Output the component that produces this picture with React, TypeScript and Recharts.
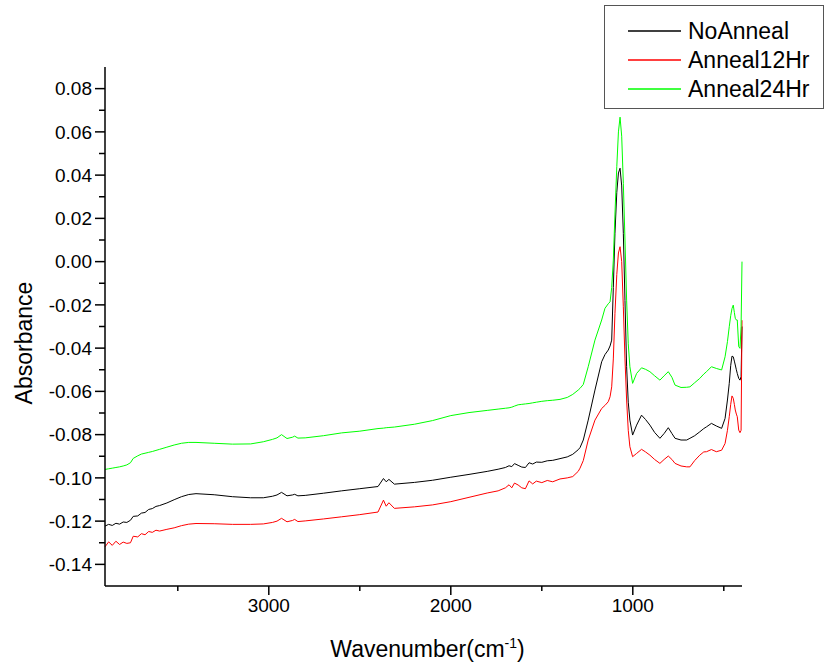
import React from 'react';
import { LineChart, Line, XAxis, YAxis, Legend } from 'recharts';

const wavenumbers = [
  3900, 3880, 3860, 3840, 3820, 3800, 3780, 3760, 3745, 3720, 3700, 3680, 3660, 3640, 3620, 3600,
  3560, 3520, 3480, 3440, 3400, 3300, 3200, 3100, 3030, 2980, 2955, 2930, 2900, 2870, 2858, 2840,
  2800, 2700, 2600, 2500, 2400, 2370, 2355, 2340, 2310, 2200, 2100, 2000, 1900, 1800, 1740, 1700,
  1680, 1665, 1650, 1630, 1610, 1590, 1570, 1550, 1530, 1500, 1470, 1440, 1400, 1360, 1330, 1300,
  1290, 1272, 1245, 1208, 1171, 1153, 1135, 1125, 1116, 1107, 1098, 1088, 1079, 1070, 1061, 1052,
  1043, 1034, 1025, 1016, 1001, 979, 952, 930, 906, 880, 851, 828, 805, 785, 768, 735,
  704, 686, 660, 632, 610, 595, 568, 541, 512, 493, 480, 470, 462, 455, 448, 442,
  437, 431, 426, 418, 411, 405, 400,
];

const noAnneal = [
  -0.1223, -0.1215, -0.1220, -0.1210, -0.1214, -0.1204, -0.1206, -0.1196, -0.1178, -0.1176, -0.1163, -0.1160, -0.1146, -0.1142, -0.1132, -0.1128,
  -0.1116, -0.1101, -0.1087, -0.1077, -0.1073, -0.1078, -0.1087, -0.1092, -0.1092, -0.1085, -0.1079, -0.1067, -0.1083, -0.1079, -0.1076, -0.1083,
  -0.1081, -0.1071, -0.1060, -0.1050, -0.1040, -0.1003, -0.1018, -0.1007, -0.1029, -0.1021, -0.1011, -0.0997, -0.0984, -0.0970, -0.0960, -0.0952,
  -0.0944, -0.0948, -0.0934, -0.0942, -0.0950, -0.0952, -0.0930, -0.0936, -0.0927, -0.0928, -0.0921, -0.0919, -0.0911, -0.0903, -0.0891, -0.0870,
  -0.0860, -0.0825, -0.0733, -0.0594, -0.0463, -0.0430, -0.0409, -0.0390, -0.0363, -0.0120, 0.0131, 0.0320, 0.0410, 0.0432, 0.0350, 0.0131,
  -0.0180, -0.0486, -0.0650, -0.0733, -0.0802, -0.0756, -0.0710, -0.0730, -0.0756, -0.0790, -0.0817, -0.0795, -0.0768, -0.0795, -0.0817, -0.0825,
  -0.0825, -0.0817, -0.0805, -0.0787, -0.0772, -0.0764, -0.0748, -0.0760, -0.0771, -0.0725, -0.0640, -0.0563, -0.0480, -0.0437, -0.0440, -0.0460,
  -0.0478, -0.0500, -0.0517, -0.0540, -0.0548, -0.0532, -0.0300,
];

const anneal12Hr = [
  -0.1319, -0.1296, -0.1312, -0.1293, -0.1308, -0.1297, -0.1303, -0.1300, -0.1270, -0.1273, -0.1258, -0.1263, -0.1248, -0.1252, -0.1242, -0.1246,
  -0.1238, -0.1231, -0.1221, -0.1214, -0.1211, -0.1212, -0.1215, -0.1215, -0.1213, -0.1206, -0.1200, -0.1187, -0.1203, -0.1197, -0.1192, -0.1202,
  -0.1199, -0.1190, -0.1180, -0.1170, -0.1158, -0.1103, -0.1131, -0.1115, -0.1141, -0.1134, -0.1125, -0.1110, -0.1090, -0.1070, -0.1060, -0.1046,
  -0.1032, -0.1046, -0.1024, -0.1033, -0.1046, -0.1050, -0.1014, -0.1028, -0.1015, -0.1022, -0.1012, -0.1018, -0.1005, -0.1000, -0.0994, -0.0970,
  -0.0955, -0.0920, -0.0825, -0.0733, -0.0679, -0.0665, -0.0648, -0.0625, -0.0579, -0.0450, -0.0239, -0.0060, 0.0040, 0.0069, 0.0000, -0.0209,
  -0.0450, -0.0640, -0.0780, -0.0856, -0.0902, -0.0887, -0.0868, -0.0880, -0.0895, -0.0915, -0.0933, -0.0915, -0.0899, -0.0915, -0.0933, -0.0945,
  -0.0949, -0.0949, -0.0920, -0.0895, -0.0880, -0.0879, -0.0869, -0.0879, -0.0872, -0.0841, -0.0780, -0.0717, -0.0660, -0.0621, -0.0632, -0.0660,
  -0.0686, -0.0705, -0.0717, -0.0779, -0.0791, -0.0780, -0.0271,
];

const anneal24Hr = [
  -0.0961, -0.0958, -0.0955, -0.0952, -0.0949, -0.0945, -0.0940, -0.0930, -0.0910, -0.0898, -0.0890, -0.0886, -0.0882, -0.0878, -0.0873, -0.0868,
  -0.0858, -0.0848, -0.0840, -0.0836, -0.0836, -0.0840, -0.0844, -0.0843, -0.0833, -0.0822, -0.0815, -0.0800, -0.0818, -0.0812, -0.0807, -0.0816,
  -0.0815, -0.0805, -0.0792, -0.0784, -0.0772, -0.0770, -0.0768, -0.0767, -0.0765, -0.0752, -0.0735, -0.0712, -0.0698, -0.0688, -0.0682, -0.0678,
  -0.0676, -0.0673, -0.0668, -0.0662, -0.0660, -0.0658, -0.0656, -0.0653, -0.0650, -0.0646, -0.0643, -0.0641, -0.0637, -0.0628, -0.0614, -0.0594,
  -0.0586, -0.0568, -0.0486, -0.0363, -0.0270, -0.0216, -0.0195, -0.0186, -0.0120, 0.0007, 0.0220, 0.0439, 0.0600, 0.0668, 0.0580, 0.0362,
  0.0100, -0.0178, -0.0380, -0.0486, -0.0563, -0.0517, -0.0491, -0.0498, -0.0509, -0.0528, -0.0548, -0.0528, -0.0509, -0.0535, -0.0571, -0.0582,
  -0.0581, -0.0579, -0.0560, -0.0540, -0.0520, -0.0509, -0.0486, -0.0494, -0.0501, -0.0440, -0.0370, -0.0301, -0.0250, -0.0217, -0.0201, -0.0235,
  -0.0262, -0.0270, -0.0270, -0.0393, -0.0401, -0.0300, 0.0000,
];

const xTicks = [500, 1000, 1500, 2000, 2500, 3000, 3500];
const yTicks = [
  -0.15, -0.14, -0.13, -0.12, -0.11, -0.1, -0.09, -0.08, -0.07, -0.06, -0.05, -0.04, -0.03, -0.02, -0.01,
  0, 0.01, 0.02, 0.03, 0.04, 0.05, 0.06, 0.07, 0.08, 0.09,
];

const seriesKeys = ['noAnneal', 'anneal12Hr', 'anneal24Hr'];
const seriesNames = ['NoAnneal', 'Anneal12Hr', 'Anneal24Hr'];
const seriesColors = ['#000000', '#ff0000', '#00ff00'];

const data = wavenumbers.map((wn, i) => ({
  wn,
  noAnneal: noAnneal[i],
  anneal12Hr: anneal12Hr[i],
  anneal24Hr: anneal24Hr[i],
}));

const FONT = '"Liberation Sans", Arial, Helvetica, sans-serif';

const XTick = (props: any) => {
  const { x, y, payload } = props;
  const v = payload.value;
  const major = v % 1000 === 0;
  return (
    <g>
      <line x1={x} x2={x} y1={y} y2={y + (major ? 9 : 5)} stroke="#000" strokeWidth={1.5} />
      {major && (
        <text x={x} y={y + 26} textAnchor="middle" fontSize={19} fontFamily={FONT} fill="#000">
          {v}
        </text>
      )}
    </g>
  );
};

const YTick = (props: any) => {
  const { x, y, payload } = props;
  const v = payload.value;
  const k = Math.round(v * 100);
  const major = k % 2 === 0;
  if (k === 9 || k === -15) return <g />;
  return (
    <g>
      <line x1={x} x2={x - (major ? 10 : 6)} y1={y} y2={y} stroke="#000" strokeWidth={1.5} />
      {major && (
        <text x={x - 13} y={y} dy="0.36em" textAnchor="end" fontSize={19} fontFamily={FONT} fill="#000">
          {v.toFixed(2)}
        </text>
      )}
    </g>
  );
};

const XTitle = (props: any) => {
  const vb = props.viewBox;
  return (
    <text x={vb.x + vb.width / 2 + 4} y={vb.y + 71} textAnchor="middle" fontSize={23} fontFamily={FONT} fill="#000">
      Wavenumber(cm
      <tspan dy={-9} fontSize={14}>-1</tspan>
      <tspan dy={9}>)</tspan>
    </text>
  );
};

const YTitle = (props: any) => {
  const vb = props.viewBox;
  const cx = vb.x - 13;
  const cy = 343;
  return (
    <text x={cx} y={cy} transform={`rotate(-90, ${cx}, ${cy})`} textAnchor="middle" fontSize={23} fontFamily={FONT} fill="#000">
      Absorbance
    </text>
  );
};

const LegendBox = () => (
  <div
    style={{
      position: 'absolute',
      left: 604,
      top: 5,
      width: 220,
      height: 104,
      border: '1.5px solid #555',
      background: '#fff',
      boxSizing: 'border-box',
    }}
  >
    {seriesNames.map((name, i) => (
      <div key={name} style={{ position: 'absolute', left: 0, top: 25 + i * 29 - 14, height: 28, width: 216 }}>
        <svg width={60} height={28} style={{ position: 'absolute', left: 22, top: 0 }}>
          <line x1={1} x2={54} y1={14} y2={14} stroke={seriesColors[i]} strokeWidth={1.5} />
        </svg>
        <span
          style={{
            position: 'absolute',
            left: 83,
            top: 0,
            lineHeight: '28px',
            fontSize: 23,
            fontFamily: FONT,
            color: '#000',
            whiteSpace: 'nowrap',
          }}
        >
          {name}
        </span>
      </div>
    ))}
  </div>
);

export default function App() {
  return (
    <div style={{ position: 'absolute', left: 0, top: 0, width: 826, height: 666, background: '#fff' }}>
      <LineChart width={826} height={666} data={data} margin={{ top: 67, right: 84, bottom: 30, left: 45 }}>
        <XAxis
          dataKey="wn"
          type="number"
          domain={[400, 3900]}
          reversed
          ticks={xTicks}
          interval={0}
          tick={<XTick />}
          tickLine={false}
          tickSize={0}
          tickMargin={0}
          axisLine={{ stroke: '#000', strokeWidth: 1.5 }}
          height={50}
          label={<XTitle />}
        />
        <YAxis
          type="number"
          domain={[-0.15, 0.09]}
          ticks={yTicks}
          interval={0}
          allowDataOverflow
          tick={<YTick />}
          tickLine={false}
          tickSize={0}
          tickMargin={0}
          axisLine={{ stroke: '#000', strokeWidth: 1.5 }}
          width={60}
          label={<YTitle />}
        />
        <Legend content={<LegendBox />} wrapperStyle={{ position: 'absolute', left: 0, top: 0, width: 0, height: 0 }} />
        {seriesKeys.map((k, i) => (
          <Line
            key={k}
            dataKey={k}
            name={seriesNames[i]}
            stroke={seriesColors[i]}
            strokeWidth={1}
            dot={false}
            activeDot={false}
            type="linear"
            isAnimationActive={false}
          />
        ))}
      </LineChart>
    </div>
  );
}
